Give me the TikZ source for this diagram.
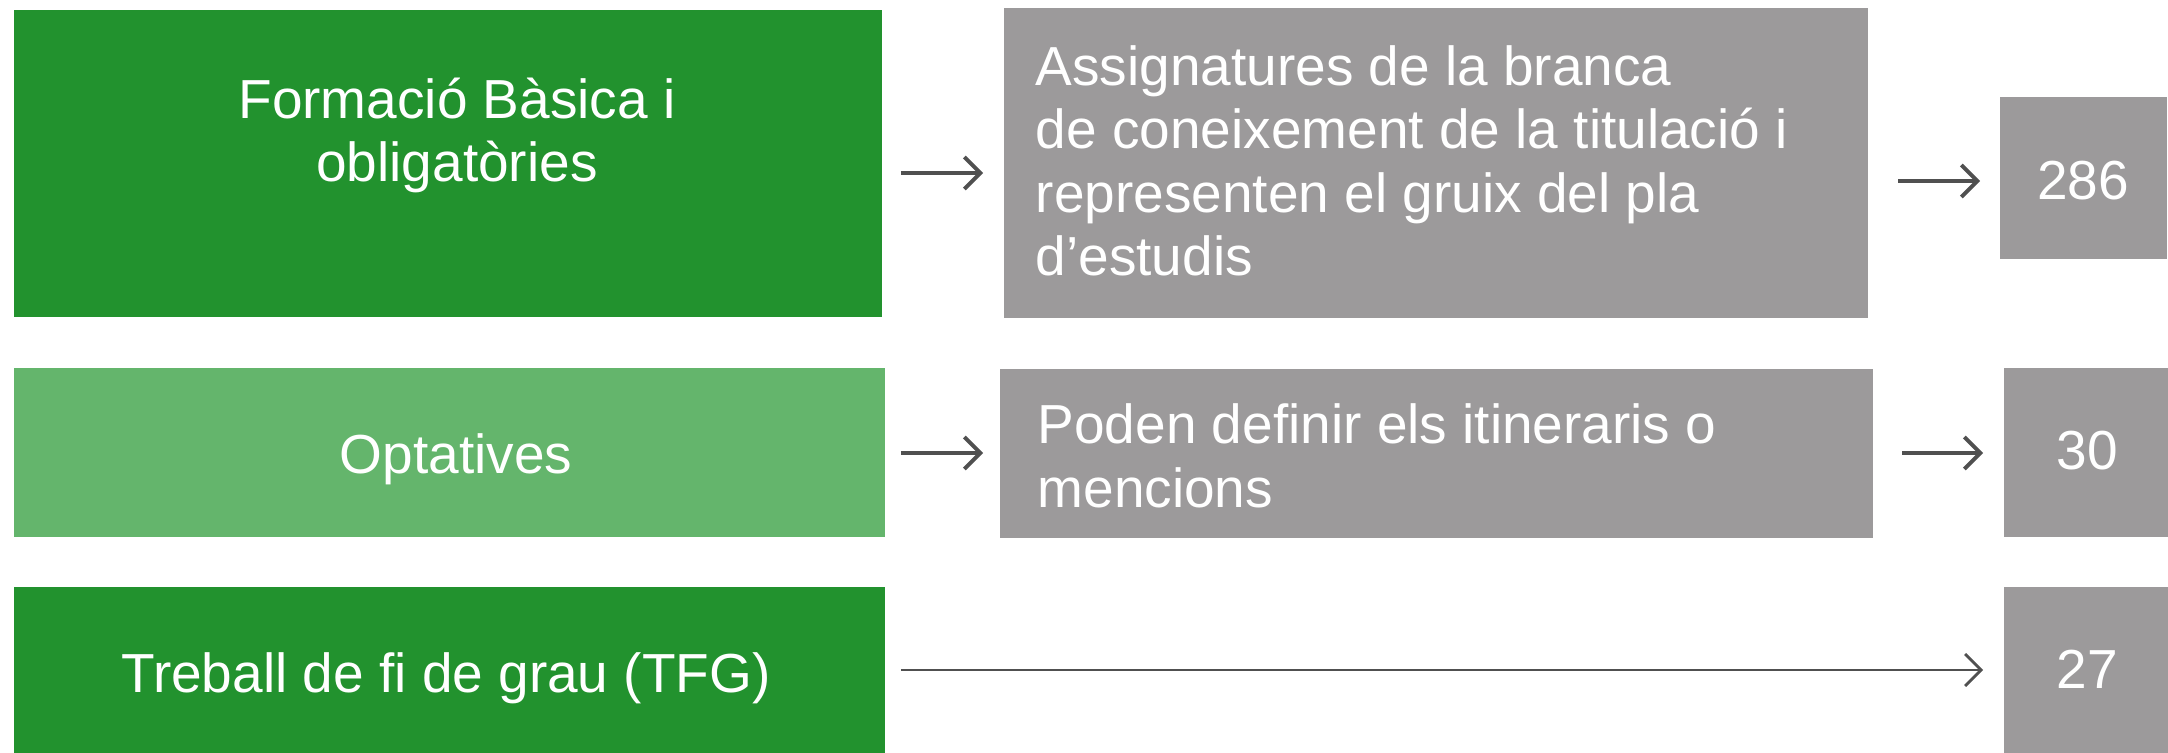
\documentclass[tikz,border=0pt]{standalone}
\usepackage{fontspec}
\setmainfont{Liberation Sans}
\usetikzlibrary{arrows.meta}
\definecolor{dkgreen}{RGB}{34,146,46}
\definecolor{ltgreen}{RGB}{100,181,108}
\definecolor{boxgray}{RGB}{156,154,155}
\definecolor{arrowgray}{RGB}{80,80,80}
\begin{document}
\begin{tikzpicture}[x=0.1mm,y=-0.1mm,
  box/.style={draw=none, inner sep=0pt, outer sep=0pt, anchor=north west},
  lbl/.style={text=white, font=\fontsize{15.65}{18.1}\selectfont, inner sep=0pt},
  arr/.style={draw=arrowgray, line width=1.1pt, -{Straight Barb[length=1.6mm,width=3.2mm]}}]
\useasboundingbox (0,0) rectangle (2168,753);
\fill[white] (0,0) rectangle (2168,753);
% row 1
\node[box, fill=dkgreen, minimum width=86.8mm, minimum height=30.7mm] (A) at (14,10) {};
\node[box, fill=boxgray, minimum width=86.4mm, minimum height=31.0mm] (G1) at (1004,8) {};
\node[box, fill=boxgray, minimum width=16.7mm, minimum height=16.2mm] (N1) at (2000,97) {};
% row 2
\node[box, fill=ltgreen, minimum width=87.1mm, minimum height=16.9mm] (B) at (14,368) {};
\node[box, fill=boxgray, minimum width=87.3mm, minimum height=16.9mm] (G2) at (1000,369) {};
\node[box, fill=boxgray, minimum width=16.4mm, minimum height=16.9mm] (N2) at (2004,368) {};
% row 3
\node[box, fill=dkgreen, minimum width=87.1mm, minimum height=16.6mm] (C) at (14,587) {};
\node[box, fill=boxgray, minimum width=16.4mm, minimum height=16.6mm] (N3) at (2004,587) {};
% texts (base anchor = last line's baseline)
\node[lbl, anchor=base, align=center] (tA) at (457,182) {Formació Bàsica i\\obligatòries};
\node[lbl, anchor=base west, align=left] (tG1) at (1035,276) {Assignatures de la branca\\de coneixement de la titulació i\\representen el gruix del pla\\d’estudis};
\node[lbl, anchor=base] (tN1) at (2083,200) {286};
\node[lbl, anchor=base] (tB) at (456,474) {Optatives};
\node[lbl, anchor=base west, align=left] (tG2) at (1037,507) {Poden definir els itineraris o\\mencions};
\node[lbl, anchor=base] (tN2) at (2087,469) {30};
\node[lbl, anchor=base] (tC) at (446,692) {Treball de fi de grau (TFG)};
\node[lbl, anchor=base] (tN3) at (2087,688) {27};
% arrows
\draw[arr, shorten <=1.9mm, shorten >=2.1mm] (A.east |- 0,173) -- (G1.west |- 0,173);
\draw[arr, shorten <=3.0mm, shorten >=2.0mm] (G1.east |- 0,181) -- (N1.west |- 0,181);
\draw[arr, shorten <=1.6mm, shorten >=1.7mm] (B.east |- 0,453) -- (G2.west |- 0,453);
\draw[arr, shorten <=2.9mm, shorten >=2.1mm] (G2.east |- 0,453) -- (N2.west |- 0,453);
\draw[arr, line width=0.8pt, shorten <=1.6mm, shorten >=2.1mm] (C.east |- 0,670) -- (N3.west |- 0,670);
\end{tikzpicture}
\end{document}
